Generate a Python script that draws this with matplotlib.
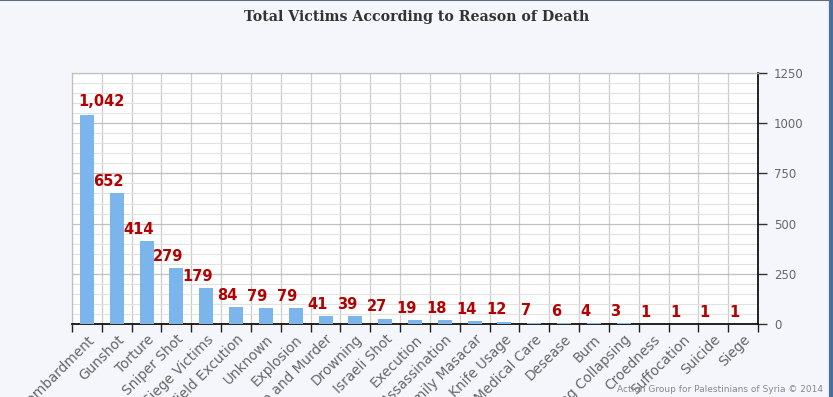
import matplotlib.pyplot as plt
from matplotlib.ticker import MultipleLocator, FixedLocator

causes = ["Bombardment", "Gunshot", "Torture", "Sniper Shot", "Siege Victims",
          "Field Excution", "Unknown", "Explosion", "Kidnap and Murder", "Drowning",
          "Israeli Shot", "Execution", "Assassination", "Family Masacar", "Knife Usage",
          "Medical Care", "Desease", "Burn", "Building Collapsing", "Croedness",
          "Suffocation", "Suicide", "Siege"]
victims = [1042, 652, 414, 279, 179, 84, 79, 79, 41, 39, 27, 19, 18, 14, 12,
           7, 6, 4, 3, 1, 1, 1, 1]

BG = "#f5f6fc"
BAR = "#7cb5ec"
LABEL_RED = "#b30000"

fig = plt.figure(figsize=(8.33, 3.97), dpi=100, facecolor=BG)
ax = fig.add_axes([72 / 833, 1 - 324 / 397, (758 - 72) / 833, (324 - 73) / 397])
ax.set_facecolor("white")

n = len(causes)
xs = list(range(n))
ax.bar(xs, victims, width=0.47, color=BAR, zorder=3)

ax.set_xlim(-0.5, n - 0.5)
ax.set_ylim(0, 1250)

# grid: major every 250, minor every 50, vertical lines between categories
ax.yaxis.set_major_locator(MultipleLocator(250))
ax.yaxis.set_minor_locator(MultipleLocator(50))
ax.xaxis.set_major_locator(FixedLocator(xs))
ax.xaxis.set_minor_locator(FixedLocator([i - 0.5 for i in range(n + 1)]))
ax.grid(which="major", axis="y", color="#c0c0c0", linewidth=0.9, zorder=0)
ax.grid(which="minor", axis="y", color="#e2e2e2", linewidth=0.8, zorder=0)
ax.grid(which="minor", axis="x", color="#cccccc", linewidth=0.9, zorder=0)

ax.yaxis.tick_right()
ax.tick_params(axis="y", which="major", length=6.5, width=1, color="#333333",
               labelcolor="#666666", labelsize=8.5, pad=5)
ax.tick_params(axis="y", which="minor", length=0)
ax.tick_params(axis="x", which="major", length=0, labelcolor="#666666",
               labelsize=9.8, pad=6)
ax.tick_params(axis="x", which="minor", length=6, width=1, color="#222222")
ax.set_xticklabels(causes, rotation=45, ha="right", rotation_mode="anchor")

for side in ("top", "left"):
    ax.spines[side].set_color("#c0c0c0")
    ax.spines[side].set_linewidth(0.9)
for side in ("bottom", "right"):
    ax.spines[side].set_color("#111111")
    ax.spines[side].set_linewidth(1.3)

# value labels (first one nudged right to stay inside the plot)
for i, v in enumerate(victims):
    if i == 0:
        ax.annotate(f"{v:,}", (i, v), xytext=(-6, 4), textcoords="offset points",
                    ha="left", va="bottom", color=LABEL_RED, fontsize=10.5,
                    fontweight="bold", zorder=4)
    else:
        ax.annotate(f"{v:,}", (i, v), xytext=(-6, 3), textcoords="offset points",
                    ha="center", va="bottom", color=LABEL_RED, fontsize=10.5,
                    fontweight="bold", zorder=4)

fig.text(0.5, 1 - 17 / 397, "Total Victims According to Reason of Death",
         ha="center", va="center", fontsize=10.2, fontweight="bold",
         family="DejaVu Serif", color="#333333")
fig.text(823 / 833, 1 - 390 / 397, "Action Group for Palestinians of Syria \u00a9 2014",
         ha="right", va="center", fontsize=6.5, color="#888888")

# frame accents
fig.add_artist(plt.Line2D([0, 1], [0.999, 0.999], color="#5b6b78", linewidth=1.5,
                          transform=fig.transFigure))
fig.add_artist(plt.Line2D([0.9975, 0.9975], [0, 1], color="#4a6fa0", linewidth=3,
                          transform=fig.transFigure))

fig.savefig("out.png", dpi=100, facecolor=BG)
